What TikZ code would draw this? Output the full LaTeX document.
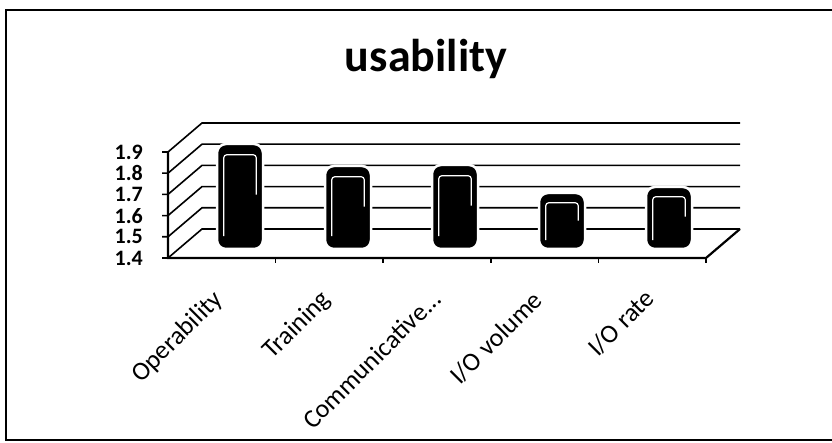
\documentclass[tikz,border=0pt]{standalone}
\usepackage{fontspec}
\setmainfont{Carlito}

\begin{document}
\begin{tikzpicture}[
    x=1pt, y=-1pt,
    moldura/.style={line width=2pt, black},
    grade/.style={line width=1.6pt, black},
    piso/.style={line width=2.2pt, black},
    coluna/.style={rectangle, rounded corners=9pt, fill=black, draw=white, line width=2.5pt, minimum width=46pt, inner sep=0pt},
    brilho/.style={white, line width=1.2pt, rounded corners=3pt},
    titulo/.style={font=\fontsize{46}{50}\selectfont\bfseries, inner sep=0pt},
    valor/.style={font=\fontsize{22}{24}\selectfont\bfseries, anchor=east, inner sep=0pt},
    categoria/.style={font=\fontsize{26}{28}\selectfont, rotate=45, anchor=east, inner sep=0pt}
]
\useasboundingbox (0,0) rectangle (832,443);

% Moldura do gráfico
\draw[moldura] (832,10) -- (6,10) -- (6,440) -- (832,440);

% Título
\node[titulo, anchor=base] (tit) at (426,72) {usability};

% Grade: marca, parede lateral e parede do fundo
\draw[grade] (162,258) -- (168,258) -- (202,229) -- (740,229);
\draw[grade] (162,236.8) -- (168,236.8) -- (202,207.8) -- (740,207.8);
\draw[grade] (162,215.6) -- (168,215.6) -- (202,186.6) -- (740,186.6);
\draw[grade] (162,194.4) -- (168,194.4) -- (202,165.4) -- (740,165.4);
\draw[grade] (162,173.2) -- (168,173.2) -- (202,144.2) -- (740,144.2);
\draw[grade] (162,152) -- (168,152) -- (202,123) -- (740,123);

% Eixo vertical e piso
\draw[piso] (168,152) -- (168,258) -- (706,258) -- (740,229);
\draw[grade] (275.6,258) -- ++(0,5) (383.2,258) -- ++(0,5) (490.8,258) -- ++(0,5)
    (598.4,258) -- ++(0,5) (706,258) -- ++(0,5);

% Colunas
\node[coluna, minimum height=105pt] (op) at (240,196.5) {};
\node[coluna, minimum height=83pt] (tr) at (348,207.5) {};
\node[coluna, minimum height=84pt] (co) at (455,207) {};
\node[coluna, minimum height=56pt] (vo) at (562,221) {};
\node[coluna, minimum height=62pt] (ra) at (669,218) {};

% Reflexos das colunas
\draw[brilho] ([xshift=8pt,yshift=14pt]op.south west) |- ([xshift=-8pt,yshift=-12pt]op.north east) -- ++(0,-40pt);
\draw[brilho] ([xshift=8pt,yshift=14pt]tr.south west) |- ([xshift=-8pt,yshift=-12pt]tr.north east) -- ++(0,-30pt);
\draw[brilho] ([xshift=8pt,yshift=14pt]co.south west) |- ([xshift=-8pt,yshift=-12pt]co.north east) -- ++(0,-30pt);
\draw[brilho] ([xshift=8pt,yshift=10pt]vo.south west) |- ([xshift=-8pt,yshift=-11pt]vo.north east) -- ++(0,-18pt);
\draw[brilho] ([xshift=8pt,yshift=10pt]ra.south west) |- ([xshift=-8pt,yshift=-11pt]ra.north east) -- ++(0,-20pt);

% Valores do eixo
\node[valor] (v14) at (143,258) {1.4};
\node[valor] (v15) at (143,236.8) {1.5};
\node[valor] (v16) at (143,215.6) {1.6};
\node[valor] (v17) at (143,194.4) {1.7};
\node[valor] (v18) at (143,173.2) {1.8};
\node[valor] (v19) at (143,152) {1.9};

% Rótulos das categorias
\node[categoria] (c1) at (219,296) {Operability};
\node[categoria] (c2) at (327,296) {Training};
\node[categoria] (c3) at (437,294) {Communicative...};
\node[categoria] (c4) at (538,296) {I/O volume};
\node[categoria] (c5) at (650,294) {I/O rate};

\end{tikzpicture}
\end{document}
